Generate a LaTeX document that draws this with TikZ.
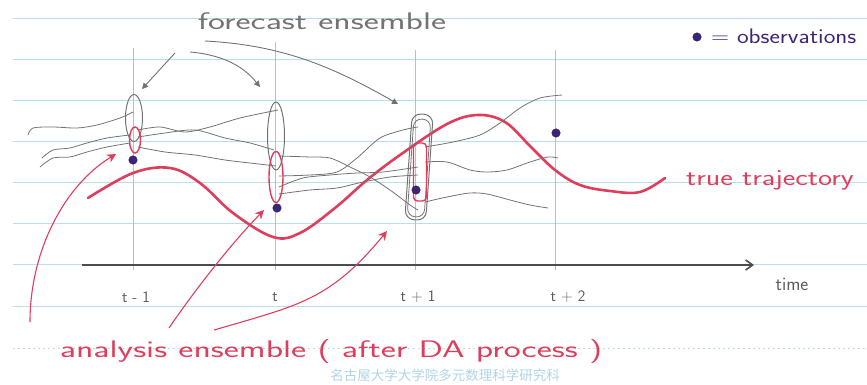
\documentclass[tikz,border=0pt]{standalone}
\usepackage{fontspec}
\newfontfamily\cjkfont{Noto Sans CJK SC}
\usetikzlibrary{arrows.meta,shapes.geometric}
\definecolor{rule}{RGB}{185,222,236}
\definecolor{pencil}{RGB}{115,115,115}
\definecolor{gridpen}{RGB}{190,190,190}
\definecolor{redink}{RGB}{222,62,92}
\definecolor{obsink}{RGB}{62,36,120}
\definecolor{wm}{RGB}{175,212,230}
\tikzset{
  ruled/.style={rule, line width=0.7pt},
  gridline/.style={gridpen, line width=0.6pt},
  traj/.style={pencil, line width=0.8pt},
  ens/.style={draw=pencil, ellipse, line width=1pt, inner sep=0pt},
  ana/.style={draw=redink, ellipse, line width=1.4pt, inner sep=0pt},
  obs/.style={circle, fill=obsink, draw=obsink!70!black, inner sep=0pt, minimum size=8.5pt},
  fcarrow/.style={pencil, line width=0.9pt, -{Triangle[length=6pt,width=6pt]}},
  redarrow/.style={redink, line width=1.1pt, -{Stealth[length=9pt,width=9pt]}},
  hand/.style={inner sep=0pt},
}
\begin{document}
\begin{tikzpicture}[x=1pt,y=-1pt]
\useasboundingbox (0,0) rectangle (867,385);
% ruled paper
\foreach \yy in {18,59,100,141,182,223,264,306}
  \draw[ruled] (13,\yy) -- (867,\yy);
\draw[ruled, dash pattern=on 2pt off 3pt] (13,348) -- (867,348);
% watermark
\node[wm, font=\cjkfont\fontsize{13.5}{13.5}\selectfont, inner sep=0pt] (wmark) at (445,375) {名古屋大学大学院多元数理科学研究科};
% vertical time lines
\draw[gridline] (133,48) -- (133,270);
\draw[gridline] (275,42) -- (275,270);
\draw[gridline] (415,50) -- (415,270);
\draw[gridline] (555,50) -- (555,270);
% time axis
\coordinate (ax0) at (82,265);
\coordinate (ax1) at (754,265);
\draw[line width=1.6pt, black!70, -{Straight Barb[length=7pt,width=10pt]}] (ax0) -- (ax1);
\node[hand, pencil!80!black, font=\sffamily\fontsize{19}{19}\selectfont] (time) at (792,284) {time};
\node[hand, pencil!80!black, font=\sffamily\fontsize{16}{16}\selectfont] (l1) at (136,297) {t - 1};
\node[hand, pencil!80!black, font=\sffamily\fontsize{16}{16}\selectfont] (l2) at (275,297) {t};
\node[hand, pencil!80!black, font=\sffamily\fontsize{16}{16}\selectfont] (l3) at (418,297) {t + 1};
\node[hand, pencil!80!black, font=\sffamily\fontsize{16}{16}\selectfont] (l4) at (568,297) {t + 2};
% true trajectory
\draw[redink, line width=2.6pt, line cap=round] plot[smooth, tension=0.6] coordinates {
 (88,198) (133,173) (170,168) (200,183) (233,213) (273,237) (300,233) (335,208) (367,180) (400,155) (447,124) (478,115) (505,122) (530,146) (555,170) (580,185) (610,191) (640,192) (665,178)};
\node[hand, redink, font=\sffamily\fontsize{23}{23}\selectfont] (truelab) at (770,180) {\scalebox{1.3}[1]{true trajectory}};
% ensemble trajectories before t-1
\draw[traj] plot[smooth] coordinates {(28,135) (33,128) (53,127) (77,128) (97,125) (120,118) (133,112)};
\draw[traj] plot[smooth] coordinates {(42,158) (53,150) (70,148) (87,143) (107,138) (130,135)};
\draw[traj] plot[smooth] coordinates {(40,167) (53,158) (70,157) (87,152) (107,147) (130,143)};
% between t-1 and t
\draw[traj] plot[smooth] coordinates {(138,130) (160,127) (185,132) (210,127) (240,118) (278,110)};
\draw[traj] plot[smooth] coordinates {(138,137) (165,133) (195,130) (225,138) (250,143) (274,150)};
\draw[traj] plot[smooth] coordinates {(138,147) (165,152) (195,155) (225,160) (250,163) (276,166)};
% between t and t+1
\draw[traj] plot[smooth] coordinates {(279,156) (310,157) (330,158) (350,167) (370,177) (390,190) (410,205) (418,210)};
\draw[traj] plot[smooth] coordinates {(279,176) (310,175) (337,172) (357,158) (380,138) (403,130) (418,127)};
\draw[traj] plot[smooth] coordinates {(279,187) (303,178) (330,175) (357,173) (383,172) (418,167)};
\draw[traj] plot[smooth] coordinates {(279,194) (310,190) (337,188) (363,182) (390,177) (418,175)};
% between t+1 and t+2
\draw[traj] plot[smooth] coordinates {(425,147) (453,142) (480,135) (500,123) (520,108) (540,98) (562,95)};
\draw[traj] plot[smooth] coordinates {(425,162) (447,162) (470,170) (487,172) (507,170) (530,162) (548,157) (558,158)};
\draw[traj] plot[smooth] coordinates {(425,202) (447,197) (470,193) (487,194) (510,200) (530,205) (548,208)};
% ensembles
\node[ens, minimum width=17pt, minimum height=47pt] (ens1) at (134,118) {};
\node[ana, minimum width=11pt, minimum height=26pt] (ana1) at (135,140) {};
\node[ens, minimum width=17pt, minimum height=68pt] (ens2) at (276,136) {};
\node[ana, minimum width=14pt, minimum height=51pt] (ana2) at (276,177) {};
\node[draw=pencil, line width=1pt, rounded corners=9pt, minimum width=21pt, minimum height=106pt, inner sep=0pt, rotate=-4] (ens3) at (419,167) {};
\node[draw=pencil, line width=0.8pt, rounded corners=8pt, minimum width=17pt, minimum height=98pt, inner sep=0pt, rotate=-4] (ens3b) at (419,168) {};
\node[draw=redink, line width=1.4pt, rounded corners=4pt, minimum width=13pt, minimum height=58pt, inner sep=0pt] (ana3) at (420,172) {};
% observations
\node[obs] (o1) at (133,160) {};
\node[obs] (o2) at (277,208) {};
\node[obs] (o3) at (416,190) {};
\node[obs] (o4) at (556,133) {};
\node[obs] (okey) at (697,37) {};
\node[hand, obsink, font=\sffamily\fontsize{21}{21}\selectfont, anchor=west] (obslab) at (711,36) {\scalebox{1.18}[1]{= observations}};
% forecast ensemble label and arrows
\node[hand, pencil, font=\sffamily\fontsize{24}{24}\selectfont] (fclab) at (322,21) {\scalebox{1.5}[1]{forecast ensemble}};
\coordinate (f1) at (175,53);
\coordinate (f2) at (190,52);
\coordinate (f3) at (205,41);
\coordinate (a1) at (142,89);
\coordinate (a2) at (260,87);
\coordinate (a3) at (398,104);
\draw[fcarrow] (f1) -- (a1);
\draw[fcarrow] (f2) .. controls (225,55) and (245,68) .. (a2);
\draw[fcarrow] (f3) .. controls (280,45) and (330,65) .. (a3);
% analysis ensemble label and arrows
\node[hand, redink, font=\sffamily\fontsize{24}{24}\selectfont] (analab) at (331,352) {\scalebox{1.5}[1]{analysis ensemble ( after DA process )}};
\coordinate (r1) at (30,322);
\coordinate (r2) at (169,328);
\coordinate (r3) at (214,330);
\coordinate (h1) at (116,154);
\coordinate (h2) at (264,210);
\coordinate (h3) at (387,231);
\draw[redarrow] (r1) .. controls (30,250) and (65,185) .. (h1);
\draw[redarrow] (r2) .. controls (195,290) and (230,245) .. (h2);
\draw[redarrow] (r3) .. controls (300,305) and (330,300) .. (h3);
\end{tikzpicture}
\end{document}
